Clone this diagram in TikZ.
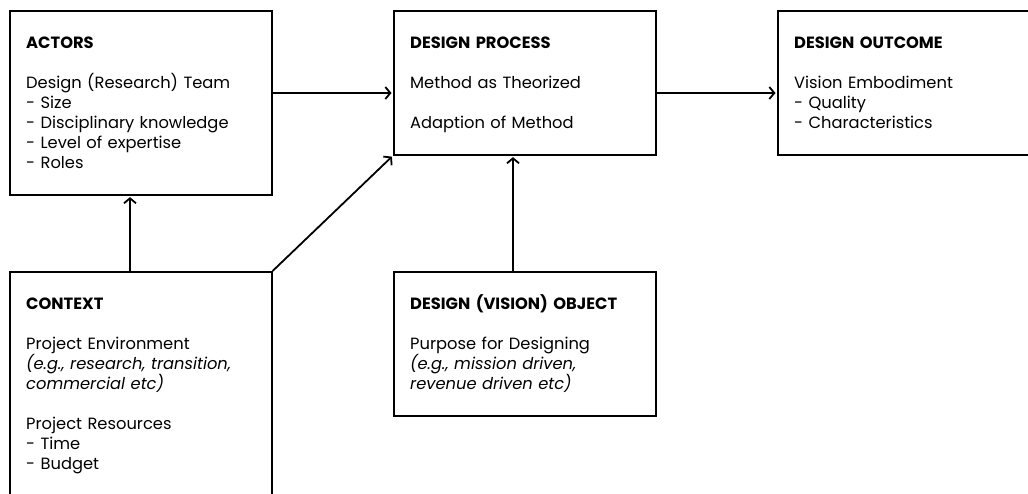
\documentclass[tikz,border=0pt]{standalone}
\usepackage{fontspec}
\setmainfont{Poppins}
\usetikzlibrary{arrows.meta}

\begin{document}
\begin{tikzpicture}[x=1pt, y=-1pt, line join=miter]
\tikzstyle{box} = [draw, line width=1.6pt, rectangle, minimum width=262pt, minimum height=144pt, anchor=north west, inner sep=0pt]
\tikzstyle{tall} = [minimum height=184pt]
\tikzstyle{txt} = [anchor=base west, inner sep=0pt, text width=240pt, align=left, font=\fontsize{16.3}{20}\selectfont]
\tikzstyle{arr} = [draw, line width=1.8pt, -{Straight Barb[length=5pt, width=12pt, line width=1.8pt]}, shorten >=1.5pt]
  \useasboundingbox (0,0) rectangle (1028,493);
  \clip (0,0) rectangle (1028,493);
  % the five blocks
  \node[box, tall] (actors)  at (9,10)    {};
  \node[box]       (process) at (393,10)  {};
  \node[box]       (outcome) at (777,10)  {};
  \node[box, minimum height=260pt] (context) at (9,271) {};
  \node[box]       (object)  at (393,271) {};
  % their texts
  \node[txt] (actorsT) at ([shift={(17pt,-38pt)}]actors.north west)
    {\textbf{ACTORS}\\[20pt]Design (Research) Team\\- Size\\- Disciplinary knowledge\\- Level of expertise\\- Roles};
  \node[txt] (processT) at ([shift={(17pt,-38pt)}]process.north west)
    {\textbf{DESIGN PROCESS}\\[20pt]Method as Theorized\\[20pt]Adaption of Method};
  \node[txt] (outcomeT) at ([shift={(17pt,-38pt)}]outcome.north west)
    {\textbf{DESIGN OUTCOME}\\[20pt]Vision Embodiment\\- Quality\\- Characteristics};
  \node[txt] (contextT) at ([shift={(17pt,-38pt)}]context.north west)
    {\textbf{CONTEXT}\\[20pt]Project Environment\\\textit{(e.g., research, transition,}\\\textit{commercial etc)}\\[20pt]Project Resources\\- Time\\- Budget};
  \node[txt] (objectT) at ([shift={(17pt,-38pt)}]object.north west)
    {\textbf{DESIGN (VISION) OBJECT}\\[20pt]Purpose for Designing\\\textit{(e.g., mission driven,}\\\textit{revenue driven etc)}};
  % connectors
  \coordinate (c1) at ([shift={(121pt,0pt)}]context.north west);
  \coordinate (o1) at ([shift={(120pt,0pt)}]object.north west);
  \draw[arr] ([yshift=-83pt]actors.north east) -- ([yshift=-83pt]process.north west);
  \draw[arr] ([yshift=-83pt]process.north east) -- ([yshift=-83pt]outcome.north west);
  \draw[arr] (c1) -- (c1 |- actors.south);
  \draw[arr] (context.north east) -- (process.south west);
  \draw[arr] (o1) -- (o1 |- process.south);
\end{tikzpicture}
\end{document}
